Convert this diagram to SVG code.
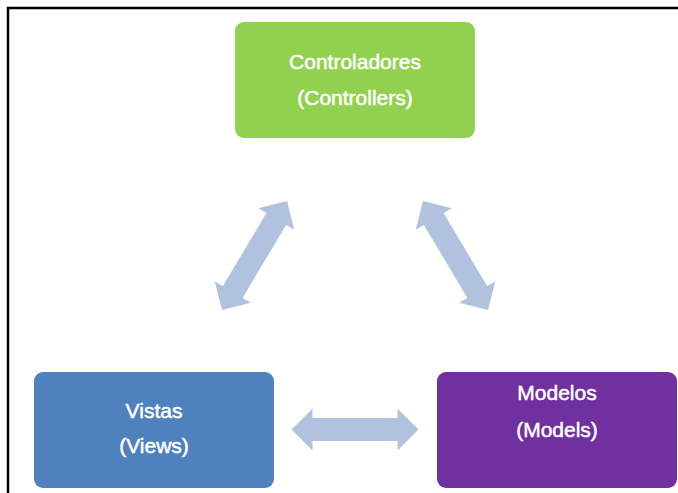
<svg xmlns="http://www.w3.org/2000/svg" width="678" height="493" viewBox="0 0 678 493">
<defs>
<style>
.lbl{font-family:"Liberation Sans","Open Sans",Arial,sans-serif;font-size:21px;fill:#ffffff;stroke:#ffffff;stroke-width:0.5;text-anchor:middle}
.arr{fill:#b0c2dd}
</style>
<polygon id="dbl" class="arr" points="-63.5,0 -42.5,-21 -42.5,-11.5 42.5,-11.5 42.5,-21 63.5,0 42.5,21 42.5,11.5 -42.5,11.5 -42.5,21"/>
</defs>
<rect width="678" height="493" fill="#ffffff"/>
<path d="M8,493 V8 H678" fill="none" stroke="#000" stroke-width="2.5"/>
<g id="connectors">
<use href="#dbl" transform="translate(355,429.5)"/>
<use href="#dbl" transform="translate(254.5,255.5) rotate(-59.2)"/>
<use href="#dbl" transform="translate(455.5,255.5) rotate(59.2)"/>
</g>
<g id="controladores">
<rect x="235" y="22" width="240" height="116" rx="9" fill="#92d050"/>
<text class="lbl" x="355" y="69">Controladores</text>
<text class="lbl" x="355" y="105">(Controllers)</text>
</g>
<g id="vistas">
<rect x="34" y="372" width="240" height="116" rx="9" fill="#4f81bd"/>
<text class="lbl" x="154" y="418">Vistas</text>
<text class="lbl" x="154" y="453">(Views)</text>
</g>
<g id="modelos">
<rect x="437" y="372" width="240" height="116" rx="9" fill="#7030a0"/>
<text class="lbl" x="557" y="400">Modelos</text>
<text class="lbl" x="557" y="437">(Models)</text>
</g>
</svg>
